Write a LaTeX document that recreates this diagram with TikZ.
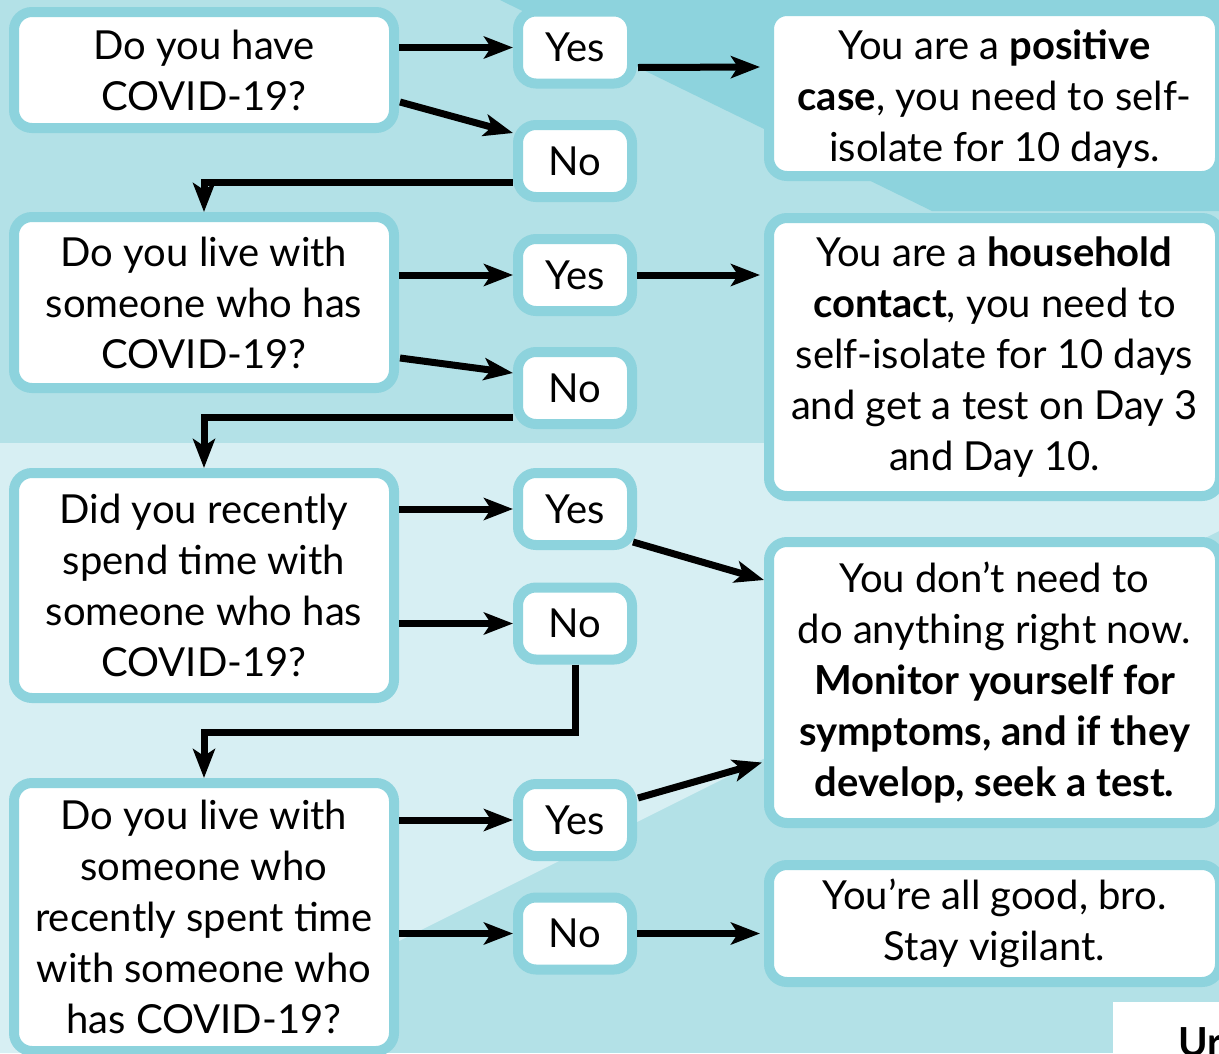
\documentclass[tikz,border=0pt]{standalone}
\usepackage{fontspec}
\setmainfont{Lato}
\usetikzlibrary{arrows.meta,calc}

\definecolor{bgbase}{HTML}{B3E1E7}
\definecolor{bgdark}{HTML}{8DD3DD}
\definecolor{bglight}{HTML}{D7EFF3}
\definecolor{rim}{HTML}{8DD3DD}

\begin{document}
\begin{tikzpicture}[x=1pt, y=-1pt,
  box/.style={draw=rim, line width=10pt, fill=white, rounded corners=18pt, inner sep=0pt, align=center, font=\fontsize{40}{51}\selectfont},
  ans/.style={box, minimum width=114pt, minimum height=72pt},
  qbox/.style={box, minimum width=380pt},
  rbox/.style={box, minimum width=451pt},
  arr/.style={line width=7pt, -{Stealth[length=29pt, width=22pt, inset=7pt]}}]

\useasboundingbox (0,0) rectangle (1219,1053);
\clip (0,0) rectangle (1219,1053);

\fill[bgbase] (0,0) rectangle (1219,1053);
\fill[bgdark] (500,0) -- (1219,0) -- (1219,211) -- (932,211) -- cycle;
\fill[bglight] (0,443) -- (1219,443) -- (1219,531) -- (175,1053) -- (0,1053) -- cycle;
\fill[white] (1113,1002) rectangle (1219,1053);
\node[anchor=base west, inner sep=0pt, font=\fontsize{40}{48}\selectfont\bfseries] (ur) at (1178,1056) {Ur};

\node[qbox, minimum height=116pt] (q1) at (204,70) {Do you have\\COVID-19?};
\node[qbox, minimum height=171pt] (q2) at (204,302.5) {Do you live with\\someone who has\\COVID-19?};
\node[qbox, minimum height=225pt] (q3) at (204,585.5) {Did you recently\\spend time with\\someone who has\\COVID-19?};
\node[qbox, minimum height=268pt] (q4) at (204,917) {Do you live with\\someone who\\recently spent time\\with someone who\\has COVID-19?};

\node[ans] (yes1) at (575,47.5) {Yes};
\node[ans] (no1) at (575,161) {No};
\node[ans] (yes2) at (575,275) {Yes};
\node[ans] (no2) at (575,388) {No};
\node[ans] (yes3) at (575,509) {Yes};
\node[ans] (no3) at (575,623.5) {No};
\node[ans] (yes4) at (575,820) {Yes};
\node[ans] (no4) at (575,933.5) {No};

\node[rbox, minimum height=165pt] (pos) at (994.5,93.5) {\rule{0pt}{40pt}You are a \textbf{positive}\\\textbf{case}, you need to self-\\isolate for 10 days.};
\node[rbox, minimum height=278pt] (house) at (994.5,357) {You are a \textbf{household}\\\textbf{contact}, you need to\\self-isolate for 10 days\\and get a test on Day 3\\and Day 10.};
\node[rbox, minimum height=281pt] (monitor) at (994.5,682.5) {You don’t need to\\do anything right now.\\\textbf{Monitor yourself for}\\\textbf{symptoms, and if they}\\\textbf{develop, seek a test.}};
\node[rbox, minimum height=117pt] (good) at (994.5,923.5) {You’re all good, bro.\\Stay vigilant.};

\draw[arr] (q1.east |- yes1) -- (yes1.west);
\draw[arr] ($(q1.east)+(1,32)$) -- ($(no1.west)+(0,-28)$);
\draw[arr] ($(yes1.east)+(1,20)$) -- ($(pos.west)+(-4,-26.5)$);
\draw[arr] ($(no1.west)+(0,21)$) -| (q2.north);

\draw[arr] (q2.east |- yes2) -- (yes2.west);
\draw[arr] ($(q2.east)+(1,55.5)$) -- ($(no2.west)+(0,-15)$);
\draw[arr] (yes2.east) -- ($(house.west |- yes2.east)+(-4,0)$);
\draw[arr] ($(no2.west)+(0,29)$) -| (q3.north);

\draw[arr] (q3.east |- yes3) -- (yes3.west);
\draw[arr] (q3.east |- no3) -- (no3.west);
\draw[arr] ($(yes3.east)+(-4,33)$) -- ($(monitor.west)+(0,-102.5)$);
\draw[arr] (no3.south) |- ($(q4.north)+(0,-46)$) -- (q4.north);

\draw[arr] (q4.east |- yes4) -- (yes4.west);
\draw[arr] (q4.east |- no4) -- (no4.west);
\draw[arr] ($(yes4.east)+(1,-22)$) -- ($(monitor.west)+(-2,80)$);
\draw[arr] (no4.east) -- ($(good.west |- no4.east)+(-4,0)$);

\end{tikzpicture}
\end{document}
